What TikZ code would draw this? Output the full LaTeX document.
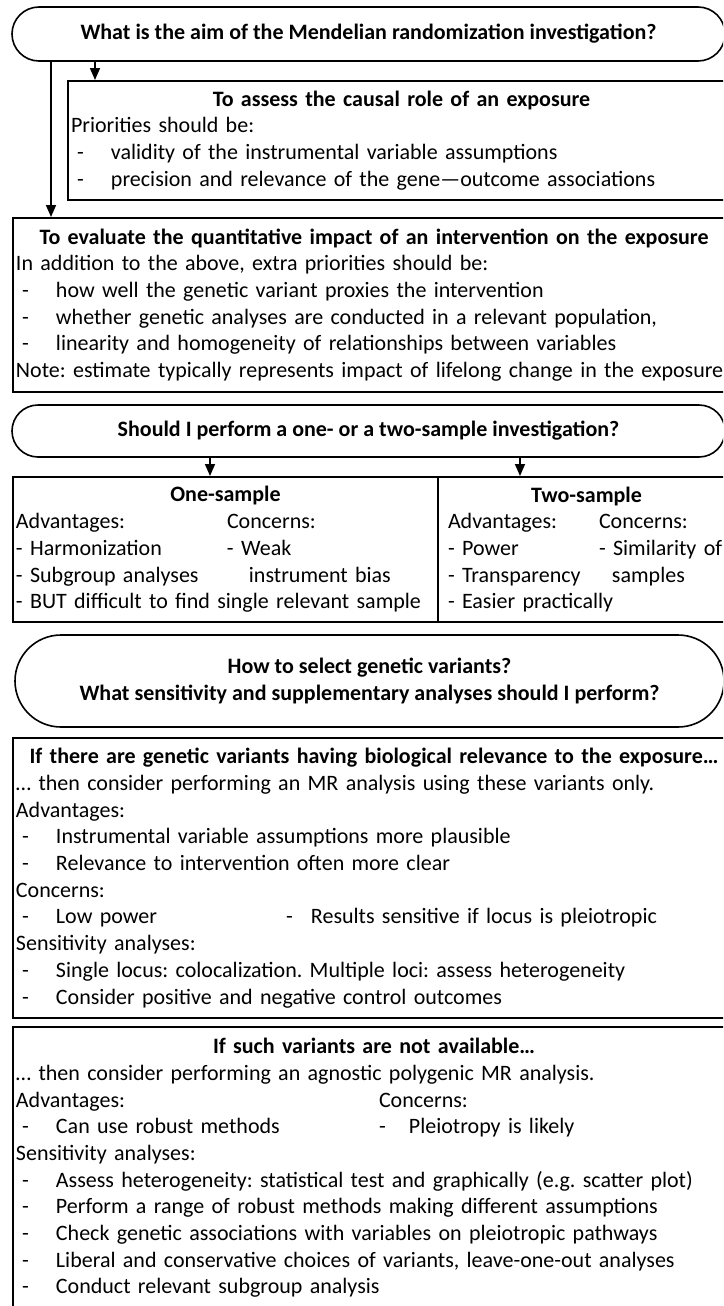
\documentclass[tikz,border=0pt]{standalone}
\usepackage{fontspec}
\setmainfont{Carlito}
\frenchspacing
\usetikzlibrary{shapes.misc, arrows.meta}
\tikzstyle{question} = [rounded rectangle, draw=black, line width=0.8pt, align=center, inner sep=0pt, font=\fontsize{11}{13.35}\selectfont\bfseries]
\tikzstyle{answer} = [rectangle, draw=black, line width=1pt, align=left, inner xsep=1.5pt, inner ysep=0pt, font=\fontsize{11}{13.35}\selectfont\frenchspacing]
\tikzstyle{line} = [draw, line width=0.8pt, -{Triangle[length=6pt, width=5pt]}]
\newcommand{\boxtitle}[1]{\makebox[\linewidth][c]{\bfseries #1}}
\newcommand{\dashitem}{\makebox[20pt][l]{\hspace{3pt}-}}

\begin{document}
\begin{tikzpicture}[x=0.5pt, y=-0.5pt]
  \clip (0,0) rectangle (723,1306);
  \path [fill=white] (0,0) rectangle (723,1306);
  %% nodes
  % aim of the investigation
  \node [question, minimum width=356.5pt, minimum height=27pt] (aim-question) at (368.5,34) {What is the aim of the Mendelian randomization investigation?};
  \node [answer, minimum width=333.5pt, minimum height=59.5pt, text width=330.5pt] (causal-role) at (401.5,140.5) {\boxtitle{To assess the causal role of an exposure}\\
    Priorities should be:\\
    \dashitem validity of the instrumental variable assumptions\\
    \dashitem precision and relevance of the gene—outcome associations};
  \node [answer, minimum width=361pt, minimum height=87pt, text width=358pt] (quantitative-impact) at (374,305) {\boxtitle{To evaluate the quantitative impact of an intervention on the exposure}\\
    In addition to the above, extra priorities should be:\\
    \dashitem how well the genetic variant proxies the intervention\\
    \dashitem whether genetic analyses are conducted in a relevant population,\\
    \dashitem linearity and homogeneity of relationships between variables\\
    \mbox{Note: estimate typically represents impact of lifelong change in the exposure}};
  % one or two samples
  \node [question, minimum width=356.5pt, minimum height=26pt] (sample-question) at (368.5,431) {Should I perform a one- or a two-sample investigation?};
  \node [answer, minimum width=212.5pt, minimum height=72.5pt, text width=209.5pt] (one-sample) at (225.5,549.5) {\boxtitle{One-sample}\\
    \makebox[105.5pt][l]{Advantages:}Concerns:\\
    \makebox[105.5pt][l]{- Harmonization}- Weak\\
    \makebox[105.5pt][l]{- Subgroup analyses}\hspace{11pt}instrument bias\\
    - BUT difficult to find single relevant sample};
  \node [answer, minimum width=148.5pt, minimum height=72.5pt, inner xsep=5pt, text width=138.5pt] (two-sample) at (586.5,549.5) {\boxtitle{Two-sample}\\
    \makebox[75.5pt][l]{Advantages:}Concerns:\\
    \makebox[75.5pt][l]{- Power}\mbox{- Similarity of}\\
    \makebox[75.5pt][l]{- Transparency}\hspace{6.5pt}samples\\
    - Easier practically};
  % choice of variants
  \node [question, minimum width=354.5pt, minimum height=46pt] (variant-question) at (369.5,681) {How to select genetic variants?\\What sensitivity and supplementary analyses should I perform?};
  \node [answer, minimum width=361pt, minimum height=140pt, text width=358pt] (relevant-variants) at (374,878) {\boxtitle{If there are genetic variants having biological relevance to the exposure…}\\
    … then consider performing an MR analysis using these variants only.\\
    Advantages:\\
    \dashitem Instrumental variable assumptions more plausible\\
    \dashitem Relevance to intervention often more clear\\
    Concerns:\\
    \makebox[135pt][l]{\dashitem Low power}\makebox[12.5pt][l]{-}Results sensitive if locus is pleiotropic\\
    Sensitivity analyses:\\
    \dashitem Single locus: colocalization. Multiple loci: assess heterogeneity\\
    \dashitem Consider positive and negative control outcomes};
  \node [answer, minimum width=361pt, minimum height=141pt, text width=358pt] (agnostic-variants) at (374,1168) {\boxtitle{If such variants are not available…}\\
    … then consider performing an agnostic polygenic MR analysis.\\
    \makebox[181.5pt][l]{Advantages:}Concerns:\\
    \makebox[181.5pt][l]{\dashitem Can use robust methods}\makebox[15pt][l]{-}Pleiotropy is likely\\
    Sensitivity analyses:\\
    \dashitem Assess heterogeneity: statistical test and graphically (e.g. scatter plot)\\
    \dashitem Perform a range of robust methods making different assumptions\\
    \dashitem Check genetic associations with variables on pleiotropic pathways\\
    \dashitem Liberal and conservative choices of variants, leave-one-out analyses\\
    \dashitem Conduct relevant subgroup analysis};
  %% edges
  % aim to both answers
  \path [line] ([xshift=14pt]causal-role.north west |- aim-question.south) -- ([xshift=14pt]causal-role.north west);
  \path [line] ([xshift=19.5pt]quantitative-impact.north west |- aim-question.south) -- ([xshift=19.5pt]quantitative-impact.north west);
  % sample question to one and two samples
  \path [line] ([xshift=-7.75pt]one-sample.north |- sample-question.south) -- ([xshift=-7.75pt]one-sample.north);
  \path [line] ([xshift=-33.25pt]two-sample.north |- sample-question.south) -- ([xshift=-33.25pt]two-sample.north);
\end{tikzpicture}
\end{document}
